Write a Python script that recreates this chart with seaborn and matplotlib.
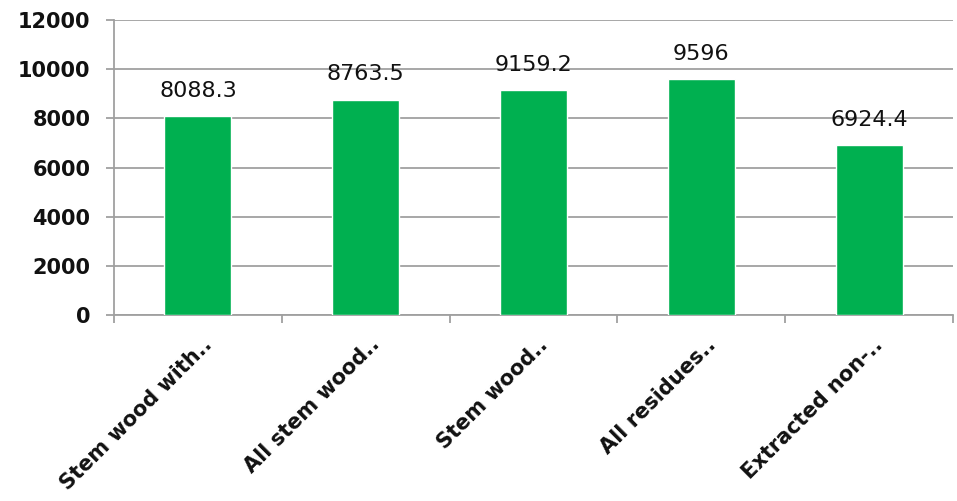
import matplotlib
matplotlib.use("Agg")
import matplotlib.pyplot as plt
import seaborn as sns
import pandas as pd
from matplotlib.transforms import ScaledTranslation

categories = ["Stem wood with..", "All stem wood..", "Stem wood..", "All residues..", "Extracted non-.."]
values = [8088.3, 8763.5, 9159.2, 9596, 6924.4]
value_labels = ["8088.3", "8763.5", "9159.2", "9596", "6924.4"]
y_ticks = [0, 2000, 4000, 6000, 8000, 10000, 12000]

df = pd.DataFrame({"category": categories, "value": values})

sns.set_theme(style="white")
plt.rcParams["font.family"] = ["DejaVu Sans"]

fig = plt.figure(figsize=(9.57, 5.01), dpi=100)
ax = fig.add_axes([0.1191, 0.3713, 0.8767, 0.5887])

sns.barplot(data=df, x="category", y="value", color="#00B050", saturation=1,
            width=0.4, ax=ax, zorder=3)

grey = "#a0a0a0"
ax.set_xlim(-0.5, len(categories) - 0.5)
ax.set_ylim(0, 12000)
ax.set_yticks(y_ticks)
ax.set_yticklabels([str(t) for t in y_ticks], fontsize=15, fontweight="bold", color="#111111")
ax.yaxis.grid(True, color=grey, linewidth=1.3, zorder=0)
ax.set_axisbelow(True)
ax.tick_params(axis="y", length=6, width=1.3, color=grey, pad=11, left=True)

# category boundary ticks on the x axis
ax.set_xticks([i - 0.5 for i in range(len(categories) + 1)], minor=False)
ax.set_xticklabels([])
ax.tick_params(axis="x", length=6, width=1.3, color=grey, bottom=True)
ax.set_xticks(range(len(categories)), minor=True)
ax.set_xticklabels(categories, minor=True, rotation=45, ha="right",
                   rotation_mode="anchor", fontsize=15, fontweight="bold", color="#111111")
ax.tick_params(axis="x", which="minor", length=0, pad=14)
offset = ScaledTranslation(4 / 100, 0, fig.dpi_scale_trans)
for lbl in ax.get_xticklabels(minor=True):
    lbl.set_transform(lbl.get_transform() + offset)

for side in ["top", "right"]:
    ax.spines[side].set_visible(False)
for side in ["left", "bottom"]:
    ax.spines[side].set_color(grey)
    ax.spines[side].set_linewidth(1.3)

ax.set_xlabel("")
ax.set_ylabel("")

for i, (v, txt) in enumerate(zip(values, value_labels)):
    ax.annotate(txt, xy=(i, v), xytext=(0, 11), textcoords="offset points",
                ha="center", va="bottom", fontsize=16, color="#111111")

fig.savefig("out.png", dpi=100)
